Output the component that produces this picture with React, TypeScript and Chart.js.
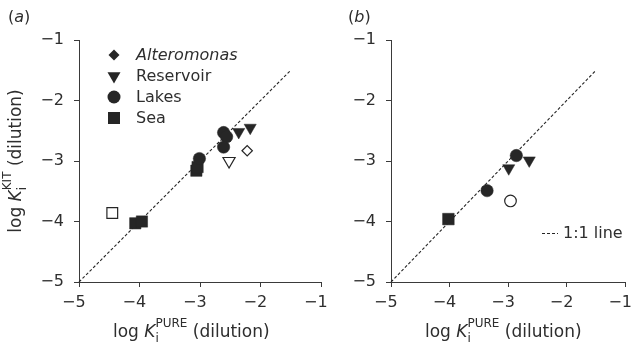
import React, { useEffect, useRef } from 'react';
import { Chart, registerables } from 'chart.js';

Chart.register(...registerables);

// ---------- data ----------
const axisMin = -5;
const axisMax = -1;
const axisStep = 1;
const oneToOneX = [-5, -1.5];
const oneToOneY = [-5, -1.5];

// Panel (a)
const aAlteromonasOpenX = [-2.22];
const aAlteromonasOpenY = [-2.83];
const aReservoirX = [-2.36, -2.17];
const aReservoirY = [-2.52, -2.45];
const aReservoirOpenX = [-2.52];
const aReservoirOpenY = [-3.0];
const aLakesX = [-2.61, -2.56, -2.61, -3.01];
const aLakesY = [-2.53, -2.6, -2.77, -2.96];
const aSeaX = [-3.06, -3.04, -4.07, -3.96];
const aSeaY = [-3.16, -3.1, -4.03, -4.0];
const aSeaOpenX = [-4.45];
const aSeaOpenY = [-3.86];

// Panel (b)
const bSeaX = [-4.02];
const bSeaY = [-3.96];
const bLakesX = [-3.36, -2.86];
const bLakesY = [-3.49, -2.91];
const bLakesOpenX = [-2.96];
const bLakesOpenY = [-3.66];
const bReservoirX = [-2.99, -2.64];
const bReservoirY = [-3.12, -2.99];

const legendLabels = ['Alteromonas', 'Reservoir', 'Lakes', 'Sea'];
const lineLegendLabel = '1:1 line';
const panelLabels = ['a', 'b'];

// ---------- styles ----------
const INK = '#262626';
const TEXT = '#2e2e2e';
const AXIS = '#3a3a3a';
const FONT = "'DejaVu Sans', sans-serif";

type Pt = { x: number; y: number };
const pts = (xs: number[], ys: number[]): Pt[] => xs.map((x, i) => ({ x, y: ys[i] }));

function scatterSet(label: string, xs: number[], ys: number[], style: string, radius: number, filled: boolean, rotation = 0) {
  return {
    type: 'scatter' as const,
    label,
    data: pts(xs, ys),
    pointStyle: style,
    pointRadius: radius,
    pointHoverRadius: radius,
    pointRotation: rotation,
    pointBackgroundColor: filled ? INK : '#ffffff',
    pointBorderColor: INK,
    pointBorderWidth: filled ? 0.5 : 1.2,
    showLine: false,
    clip: false,
    order: 0,
  };
}

function lineSet(xs: number[], ys: number[]) {
  return {
    type: 'line' as const,
    label: '1:1',
    data: pts(xs, ys),
    borderColor: INK,
    borderWidth: 1.1,
    borderDash: [3, 2],
    pointRadius: 0,
    fill: false,
    clip: false,
    order: 10,
  };
}

type Part = { t: string; size: number; italic?: boolean; dy?: number; noAdvance?: boolean };

function setFont(ctx: CanvasRenderingContext2D, p: Part) {
  ctx.font = `${p.italic ? 'italic ' : ''}${p.size}px ${FONT}`;
}
function richWidth(ctx: CanvasRenderingContext2D, parts: Part[]) {
  let w = 0;
  for (const p of parts) {
    setFont(ctx, p);
    if (!p.noAdvance) w += ctx.measureText(p.t).width;
  }
  return w;
}
function drawRich(ctx: CanvasRenderingContext2D, parts: Part[], x: number, y: number) {
  let cx = x;
  ctx.textAlign = 'left';
  ctx.textBaseline = 'alphabetic';
  for (const p of parts) {
    setFont(ctx, p);
    ctx.fillText(p.t, cx, y + (p.dy || 0));
    if (!p.noAdvance) cx += ctx.measureText(p.t).width;
  }
}

const xTitleParts: Part[] = [
  { t: 'log ', size: 17 },
  { t: 'K', size: 17, italic: true },
  { t: 'i', size: 12, dy: 5, noAdvance: true },
  { t: 'PURE', size: 12, dy: -10 },
  { t: ' (dilution)', size: 17 },
];
const yTitleParts: Part[] = [
  { t: 'log ', size: 17 },
  { t: 'K', size: 17, italic: true },
  { t: 'i', size: 12, dy: 5, noAdvance: true },
  { t: 'KIT', size: 12, dy: -10 },
  { t: ' (dilution)', size: 17 },
];

function drawMarker(ctx: CanvasRenderingContext2D, kind: string, x: number, y: number, r: number) {
  ctx.beginPath();
  if (kind === 'diamond') {
    ctx.moveTo(x, y - r); ctx.lineTo(x + r, y); ctx.lineTo(x, y + r); ctx.lineTo(x - r, y); ctx.closePath();
  } else if (kind === 'tri') {
    const w = r * Math.sqrt(3) / 2;
    ctx.moveTo(x - w, y - r / 2); ctx.lineTo(x + w, y - r / 2); ctx.lineTo(x, y + r); ctx.closePath();
  } else if (kind === 'circle') {
    ctx.arc(x, y, r, 0, Math.PI * 2);
  } else {
    ctx.rect(x - r, y - r, 2 * r, 2 * r);
  }
  ctx.fill();
}

function makeOptions(yAxisWidth: number, rightPad: number, showYTitle: boolean, panel: string, legend: 'groups' | 'line') {
  const plugin = {
    id: 'decor_' + panel,
    afterDraw(chart: any) {
      const ctx: CanvasRenderingContext2D = chart.ctx;
      const ca = chart.chartArea;
      ctx.save();
      ctx.fillStyle = TEXT;
      // panel label
      drawRich(ctx, [{ t: '(', size: 16 }, { t: panel, size: 16, italic: true }, { t: ')', size: 16 }], ca.left - (showYTitle ? 71 : 43), 22);
      // x title
      drawRich(ctx, xTitleParts, ca.left + 34, 337);
      // y title
      if (showYTitle) {
        const w = richWidth(ctx, yTitleParts);
        ctx.save();
        ctx.translate(21, (ca.top + ca.bottom) / 2);
        ctx.rotate(-Math.PI / 2);
        drawRich(ctx, yTitleParts, -w / 2, 0);
        ctx.restore();
      }
      // legends
      if (legend === 'groups') {
        const kinds = ['diamond', 'tri', 'circle', 'square'];
        const radii = [5.5, 7.5, 6.5, 6];
        const mx = ca.left + 35;
        const tx = ca.left + 57;
        legendLabels.forEach((lab, i) => {
          const y = ca.top + 15 + i * 21;
          ctx.fillStyle = INK;
          drawMarker(ctx, kinds[i], mx, y, radii[i]);
          ctx.fillStyle = TEXT;
          ctx.font = `${i === 0 ? 'italic ' : ''}16px ${FONT}`;
          ctx.textAlign = 'left';
          ctx.textBaseline = 'middle';
          ctx.fillText(lab, tx, y + 1);
        });
      } else {
        const y = ca.top + 193;
        const x0 = ca.left + 151;
        ctx.strokeStyle = INK;
        ctx.lineWidth = 1;
        ctx.setLineDash([3, 2]);
        ctx.beginPath();
        ctx.moveTo(x0, y + 0.5);
        ctx.lineTo(x0 + 16, y + 0.5);
        ctx.stroke();
        ctx.setLineDash([]);
        ctx.fillStyle = TEXT;
        ctx.font = `16px ${FONT}`;
        ctx.textAlign = 'left';
        ctx.textBaseline = 'middle';
        ctx.fillText(lineLegendLabel, x0 + 21, y + 1);
      }
      ctx.restore();
    },
  };
  const options: any = {
    responsive: false,
    animation: false,
    events: [],
    layout: { padding: { left: 0, top: 40, right: rightPad, bottom: 0 } },
    plugins: { legend: { display: false }, tooltip: { enabled: false }, title: { display: false } },
    scales: {
      x: {
        type: 'linear',
        min: axisMin,
        max: axisMax,
        grid: { drawOnChartArea: false, drawTicks: true, tickLength: 5, color: AXIS, lineWidth: 1 },
        border: { display: true, color: AXIS, width: 1 },
        ticks: {
          stepSize: axisStep,
          color: TEXT,
          padding: 6,
          maxRotation: 0,
          font: { family: FONT, size: 16 },
          callback: (v: number) => '\u2212' + Math.abs(v) + '\u2007',
        },
        afterFit: (s: any) => { s.height = 68; s.paddingLeft = 0; s.paddingRight = 0; },
      },
      y: {
        type: 'linear',
        min: axisMin,
        max: axisMax,
        grid: { drawOnChartArea: false, drawTicks: true, tickLength: 5, color: AXIS, lineWidth: 1 },
        border: { display: true, color: AXIS, width: 1 },
        ticks: {
          stepSize: axisStep,
          color: TEXT,
          padding: 10,
          font: { family: FONT, size: 16 },
          callback: (v: number) => '\u2212' + Math.abs(v),
        },
        afterFit: (s: any) => { s.width = yAxisWidth; s.paddingTop = 0; s.paddingBottom = 0; },
      },
    },
  };
  return { options, plugin };
}

export default function App() {
  const refA = useRef<HTMLCanvasElement>(null);
  const refB = useRef<HTMLCanvasElement>(null);

  useEffect(() => {
    const a = makeOptions(79, 9, true, panelLabels[0], 'groups');
    const b = makeOptions(61, 1, false, panelLabels[1], 'line');
    const chartA = new Chart(refA.current as HTMLCanvasElement, {
      type: 'scatter',
      data: {
        datasets: [
          lineSet(oneToOneX, oneToOneY),
          scatterSet('Alteromonas (open)', aAlteromonasOpenX, aAlteromonasOpenY, 'rectRot', 5.2, false),
          scatterSet('Reservoir', aReservoirX, aReservoirY, 'triangle', 7, true, 180),
          scatterSet('Reservoir (open)', aReservoirOpenX, aReservoirOpenY, 'triangle', 7, false, 180),
          scatterSet('Lakes', aLakesX, aLakesY, 'circle', 6.2, true),
          scatterSet('Sea', aSeaX, aSeaY, 'rect', 8, true),
          scatterSet('Sea (open)', aSeaOpenX, aSeaOpenY, 'rect', 7.6, false),
        ] as any,
      },
      options: a.options,
      plugins: [a.plugin],
    });
    const chartB = new Chart(refB.current as HTMLCanvasElement, {
      type: 'scatter',
      data: {
        datasets: [
          lineSet(oneToOneX, oneToOneY),
          scatterSet('Sea', bSeaX, bSeaY, 'rect', 8.2, true),
          scatterSet('Lakes', bLakesX, bLakesY, 'circle', 6.2, true),
          scatterSet('Lakes (open)', bLakesOpenX, bLakesOpenY, 'circle', 5.8, false),
          scatterSet('Reservoir', bReservoirX, bReservoirY, 'triangle', 7, true, 180),
        ] as any,
      },
      options: b.options,
      plugins: [b.plugin],
    });
    return () => {
      chartA.destroy();
      chartB.destroy();
    };
  }, []);

  return (
    <div style={{ position: 'fixed', left: 0, top: 0, width: 634, height: 350, background: '#fff' }}>
      <canvas ref={refA} width={330} height={350} style={{ position: 'absolute', left: 0, top: 0, width: 330, height: 350 }} />
      <canvas ref={refB} width={304} height={350} style={{ position: 'absolute', left: 330, top: 0, width: 304, height: 350 }} />
    </div>
  );
}
